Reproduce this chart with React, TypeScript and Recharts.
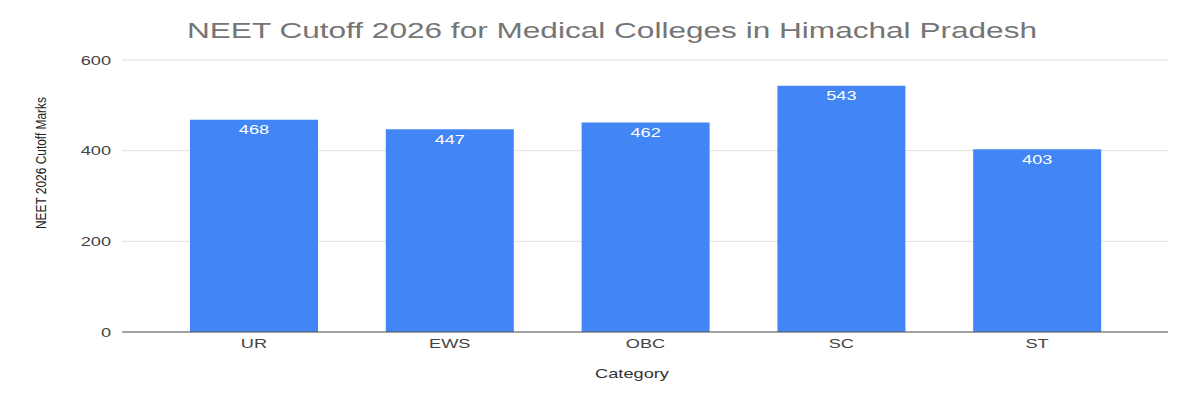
import React from 'react'
import { BarChart, Bar, XAxis, YAxis, CartesianGrid, LabelList } from 'recharts'

const categories = ['UR', 'EWS', 'OBC', 'SC', 'ST']
const cutoffMarks = [468, 447, 462, 543, 403]
const yTicks = [0, 200, 400, 600]

const FONT = '"Liberation Sans", Arial, sans-serif'
// the source image is stretched sideways, so text is widened to match
const STRETCH = 1.4

const data = categories.map((c, i) => ({ category: c, marks: cutoffMarks[i] }))

function WideText({ x, y, anchor, dy, fill, size, children }: any) {
    return (
        <g transform={`translate(${x},${y})`}>
            <text
                transform={`scale(${STRETCH},1)`}
                textAnchor={anchor}
                dy={dy}
                fill={fill}
                fontSize={size}
                fontFamily={FONT}
            >
                {children}
            </text>
        </g>
    )
}

const XTick = ({ x, y, payload }: any) => (
    <WideText x={x} y={y} anchor="middle" dy="0.71em" fill="#444" size={13}>
        {payload.value}
    </WideText>
)

const YTick = ({ x, y, payload }: any) => (
    <WideText x={x} y={y} anchor="end" dy="0.35em" fill="#444" size={13}>
        {payload.value}
    </WideText>
)

const BarValue = ({ x, y, width, value }: any) => (
    <WideText x={x + width / 2} y={y + 5} anchor="middle" dy="0.71em" fill="#fff" size={13}>
        {value}
    </WideText>
)

export default function App() {
    return (
        <div style={{ position: 'absolute', left: 0, top: 0, width: 1200, height: 400, background: '#fff', fontFamily: FONT }}>
            <BarChart
                width={1200}
                height={400}
                data={data}
                margin={{ top: 60, right: 32, bottom: 38, left: 0 }}
            >
                <CartesianGrid vertical={false} stroke="#e0e0e0" />
                <XAxis
                    dataKey="category"
                    height={30}
                    padding={{ left: 34, right: 33 }}
                    tickLine={false}
                    tickSize={0}
                    tickMargin={7}
                    stroke="#555"
                    tick={<XTick />}
                />
                <YAxis
                    width={122}
                    domain={[0, 600]}
                    ticks={yTicks}
                    axisLine={false}
                    tickLine={false}
                    tickSize={0}
                    tickMargin={11}
                    tick={<YTick />}
                />
                <Bar dataKey="marks" fill="#4285F4" barSize={128} isAnimationActive={false}>
                    <LabelList dataKey="marks" content={<BarValue />} />
                </Bar>
            </BarChart>
            <svg
                width={1200}
                height={400}
                style={{ position: 'absolute', left: 0, top: 0, pointerEvents: 'none' }}
            >
                <text
                    x={612}
                    y={38}
                    textAnchor="middle"
                    fontSize={22}
                    fill="#757575"
                    fontFamily={FONT}
                    textLength={850}
                    lengthAdjust="spacingAndGlyphs"
                >
                    NEET Cutoff 2026 for Medical Colleges in Himachal Pradesh
                </text>
                <WideText x={632} y={378} anchor="middle" fill="#333" size={13}>
                    Category
                </WideText>
                <text
                    transform="translate(46 163) rotate(-90)"
                    textAnchor="middle"
                    fontSize={15}
                    fill="#222"
                    fontFamily={FONT}
                    textLength={132}
                    lengthAdjust="spacingAndGlyphs"
                >
                    NEET 2026 Cutoff Marks
                </text>
            </svg>
        </div>
    )
}
